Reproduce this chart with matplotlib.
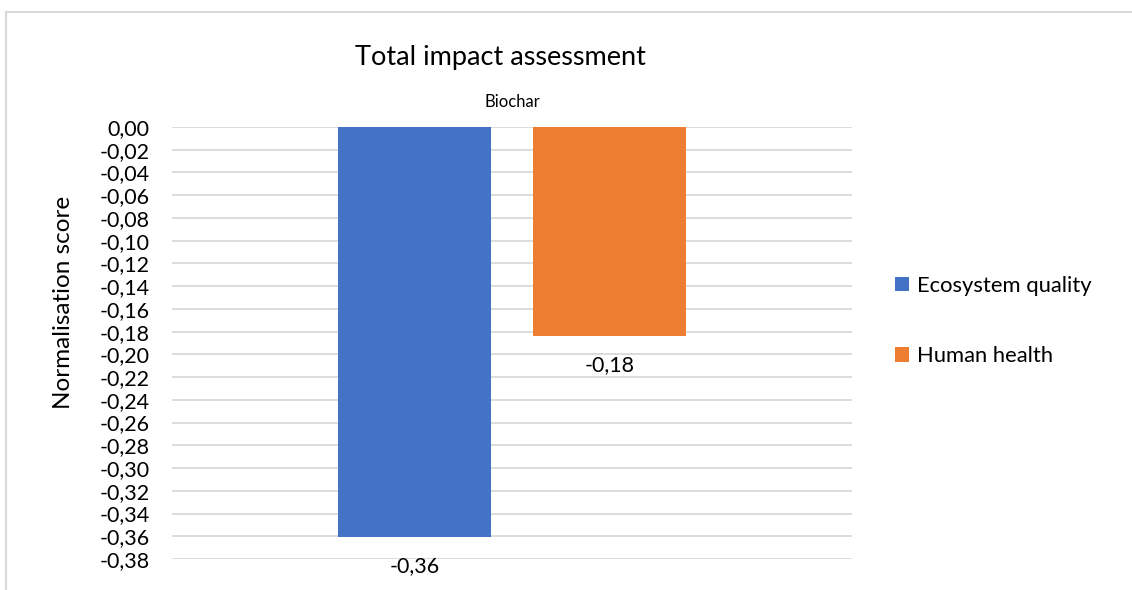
import matplotlib
matplotlib.use("Agg")
import matplotlib.pyplot as plt
from matplotlib.lines import Line2D
from matplotlib.patches import Patch

plt.rcParams['font.family'] = ['Lato', 'DejaVu Sans']

# Data
category = "Biochar"
series_names = ["Ecosystem quality", "Human health"]
series_values = [-0.361, -0.184]
series_colors = ["#4472C4", "#ED7D31"]
tick_values = [round(-0.02 * i, 2) for i in range(20)]

def fmt(v):
    s = f"{v:.2f}".replace(".", ",")
    return "0,00" if s in ("-0,00", "0,00") else s

W, H = 1132, 590
fig = plt.figure(figsize=(W / 100, H / 100), dpi=100)
ax = fig.add_axes([172 / W, 1 - 559 / H, (852 - 172) / W, (559 - 127) / H])

offsets = [-0.143, 0.143]
bar_w = 0.225
grid_c = "#D9D9D9"

for t in tick_values:
    ax.axhline(t, color=grid_c, lw=1.3, zorder=0)

for off, v, c in zip(offsets, series_values, series_colors):
    ax.bar(off, v, width=bar_w, color=c, zorder=2)
    ax.annotate(fmt(v), xy=(off, v), xytext=(0, -20.5), textcoords="offset points",
                ha="center", va="center", fontsize=15.5, color="#000000")

ax.set_xlim(-0.5, 0.5)
ax.set_ylim(-0.38, 0)
ax.set_yticks(tick_values)
ax.set_yticklabels([fmt(t) for t in tick_values], fontsize=15.5, color="#000000")
ax.tick_params(axis="y", length=0, pad=16)
ax.set_xticks([])
for s in ax.spines.values():
    s.set_visible(False)

# value axis title
fig.text(63 / W, 1 - 302 / H, "Normalisation score", rotation=90, ha="center", va="center",
         fontsize=17.5, color="#000000")

# category label on the top axis
fig.text(512 / W, 1 - 102 / H, category, ha="center", va="center", fontsize=12, color="#000000")

# chart title
fig.text(500 / W, 1 - 57 / H, "Total impact assessment", ha="center", va="center",
         fontsize=19.5, color="#000000")

# legend
handles = [Patch(facecolor=c, edgecolor="none") for c in series_colors]
leg = fig.legend(handles, series_names, loc="center left",
                 bbox_to_anchor=(875 / W, 1 - 321 / H), frameon=False,
                 fontsize=15.8, handlelength=0.65, handleheight=0.65,
                 handletextpad=0.35, labelspacing=2.3)

# chart frame
fig.add_artist(Line2D([6 / W, 1], [1 - 12 / H, 1 - 12 / H], color=grid_c, lw=1.5))
fig.add_artist(Line2D([6 / W, 6 / W], [0, 1 - 12 / H], color=grid_c, lw=1.5))

fig.savefig("out.png", dpi=100, facecolor="white")
